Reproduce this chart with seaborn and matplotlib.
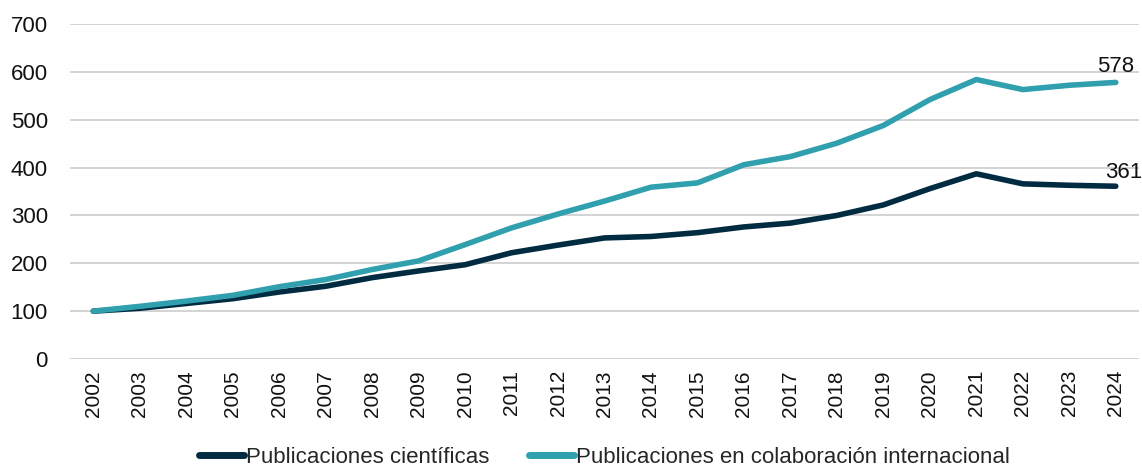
import matplotlib
matplotlib.use("Agg")
import matplotlib.pyplot as plt
import seaborn as sns
import pandas as pd

years = list(range(2002, 2025))
publicaciones = [100, 106, 116, 126, 140, 152, 170, 184, 197, 222, 238, 253, 256, 264, 276, 284,
                 300, 322, 356, 387, 366, 363, 361]
colaboracion = [100, 110, 121, 133, 151, 166, 187, 205, 239, 274, 303, 330, 359, 368, 406, 423,
                451, 488, 542, 584, 563, 572, 578]
series_names = ["Publicaciones científicas", "Publicaciones en colaboración internacional"]
colors = ["#002B40", "#30A0AE"]

df = pd.DataFrame({
    "year": [str(y) for y in years] * 2,
    "value": publicaciones + colaboracion,
    "serie": [series_names[0]] * len(years) + [series_names[1]] * len(years),
})

sns.set_style("white")
plt.rcParams['font.family'] = ['Liberation Sans Narrow', 'Liberation Sans', 'DejaVu Sans']

fig = plt.figure(figsize=(11.42, 4.68), dpi=100)
ax = fig.add_axes([0.0613, 0.2329, 0.9361, 0.7158])

sns.lineplot(data=df, x="year", y="value", hue="serie", palette=colors, linewidth=4,
             ax=ax, sort=False, solid_capstyle="round", legend=True)

ax.set_ylim(0, 700)
ax.set_xlim(-0.5, len(years) - 0.5)
ax.set_yticks(range(0, 701, 100))
ax.yaxis.grid(True, color="#cccccc", linewidth=1.2)
ax.xaxis.grid(False)
for s in ax.spines.values():
    s.set_visible(False)
ax.tick_params(axis="x", rotation=90, labelsize=15, length=0, pad=8, labelcolor="#111111")
ax.tick_params(axis="y", labelsize=16, length=0, pad=16, labelcolor="#111111")
ax.set_xlabel("")
ax.set_ylabel("")

n = len(years) - 1
ax.annotate(str(colaboracion[-1]), (n, colaboracion[-1]), xytext=(13, 4), textcoords="offset points",
            ha="right", va="bottom", fontsize=16, color="#111111")
ax.annotate(str(publicaciones[-1]), (n, publicaciones[-1]), xytext=(19, 2), textcoords="offset points",
            ha="right", va="bottom", fontsize=16, color="#111111")

handles, labels = ax.get_legend_handles_labels()
for h in handles:
    h.set_linewidth(5)
    h.set_solid_capstyle("round")
ax.legend(handles, labels, loc="lower center", bbox_to_anchor=(0.5, -0.385), ncol=2, frameon=False,
          fontsize=16, handlelength=2.0, handletextpad=0.1, columnspacing=1.8)

fig.savefig("out.png", dpi=100)
